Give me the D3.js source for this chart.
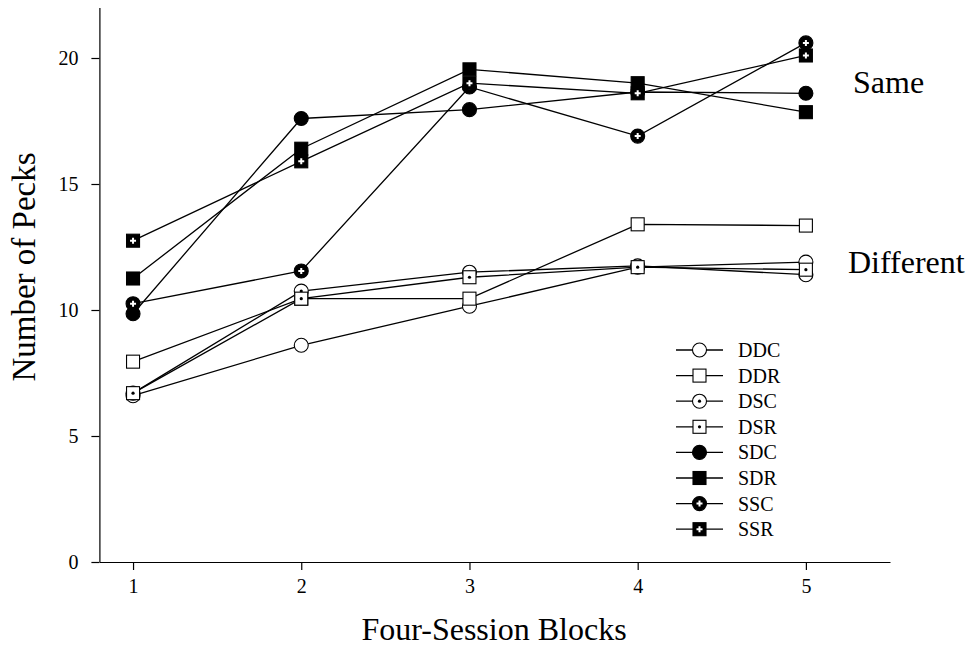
<!DOCTYPE html>
<html>
<head>
<meta charset="utf-8">
<script src="https://cdn.jsdelivr.net/npm/d3@7"></script>
<style>
  html, body { margin: 0; padding: 0; background: #fff; }
  svg { display: block; }
  text { font-family: "Liberation Serif", "Times New Roman", serif; fill: #000; }
</style>
</head>
<body>
<svg id="chart" width="973" height="652"></svg>
<script>
// Four-session blocks on the x axis
const blocks = [1, 2, 3, 4, 5];

// Mean pecks per condition
const DDC = [6.6, 8.6, 10.15, 11.7, 11.9];
const DDR = [7.95, 10.45, 10.45, 13.4, 13.35];
const DSC = [6.7, 10.75, 11.5, 11.75, 11.4];
const DSR = [6.7, 10.45, 11.3, 11.7, 11.6];
const SDC = [9.85, 17.6, 17.95, 18.65, 18.6];
const SDR = [11.25, 16.4, 19.55, 19.0, 17.85];
const SSC = [10.25, 11.55, 18.85, 16.9, 20.6];
const SSR = [12.75, 15.9, 19.0, 18.6, 20.1];

const seriesNames = ["DDC", "DDR", "DSC", "DSR", "SDC", "SDR", "SSC", "SSR"];
const seriesValues = [DDC, DDR, DSC, DSR, SDC, SDR, SSC, SSR];

const yTicks = [0, 5, 10, 15, 20];
const groupLabels = ["Same", "Different"];

// Marker styling per condition: shape, fill, inner mark
const markerStyle = {
  DDC: { shape: "circle", fill: "#fff", inner: null },
  DDR: { shape: "square", fill: "#fff", inner: null },
  DSC: { shape: "circle", fill: "#fff", inner: "dot" },
  DSR: { shape: "square", fill: "#fff", inner: "dot" },
  SDC: { shape: "circle", fill: "#000", inner: null },
  SDR: { shape: "square", fill: "#000", inner: null },
  SSC: { shape: "circle", fill: "#000", inner: "cross" },
  SSR: { shape: "square", fill: "#000", inner: "cross" }
};

const svg = d3.select("#chart");
const x = d3.scaleLinear().domain([0.8, 5.5]).range([99.4, 890]);
const y = d3.scaleLinear().domain([0, 22]).range([562, 7.6]);

// Axes
const xAxis = d3.axisBottom(x).tickValues(blocks).tickSize(8).tickSizeOuter(0).tickPadding(9).tickFormat(d3.format("d"));
const yAxis = d3.axisLeft(y).tickValues(yTicks).tickSize(8).tickSizeOuter(0).tickPadding(13).tickFormat(d3.format("d"));

const gx = svg.append("g").attr("transform", "translate(0,562)").call(xAxis);
const gy = svg.append("g").attr("transform", "translate(99.4,0)").call(yAxis);
[gx, gy].forEach(g => {
  g.attr("font-family", null).attr("font-size", null);
  g.select(".domain").attr("stroke", "#000").attr("stroke-width", 1.2);
  g.selectAll(".tick line").attr("stroke", "#000").attr("stroke-width", 1.2);
  g.selectAll(".tick text").style("font-family", "Liberation Serif, serif").style("font-size", "20px").attr("fill", "#000");
});

// Axis titles
svg.append("text")
  .attr("x", 494).attr("y", 640)
  .attr("text-anchor", "middle")
  .style("font-size", "32px")
  .text("Four-Session Blocks");

svg.append("text")
  .attr("transform", "translate(35,267) rotate(-90)")
  .attr("text-anchor", "middle")
  .style("font-size", "33px")
  .text("Number of Pecks");

// Group labels
svg.append("text").attr("x", 853).attr("y", 93).style("font-size", "32px").text(groupLabels[0]);
svg.append("text").attr("x", 848).attr("y", 273).style("font-size", "32px").text(groupLabels[1]);

// Marker drawing helper
function drawMarker(g, name, cx, cy) {
  const s = markerStyle[name];
  if (s.shape === "circle") {
    g.append("circle").attr("cx", cx).attr("cy", cy).attr("r", 7)
      .attr("fill", s.fill).attr("stroke", "#000").attr("stroke-width", 1.1);
  } else {
    g.append("rect").attr("x", cx - 6.5).attr("y", cy - 6.5).attr("width", 13).attr("height", 13)
      .attr("fill", s.fill).attr("stroke", "#000").attr("stroke-width", 1.1);
  }
  if (s.inner === "dot") {
    g.append("circle").attr("cx", cx).attr("cy", cy).attr("r", 1.6).attr("fill", "#000");
  } else if (s.inner === "cross") {
    g.append("path")
      .attr("d", `M${cx - 3},${cy}H${cx + 3}M${cx},${cy - 3}V${cy + 3}`)
      .attr("stroke", "#fff").attr("stroke-width", 2).attr("fill", "none");
  }
}

const line = d3.line().x((d, i) => x(blocks[i])).y(d => y(d));

// Lines first, then markers on top
const plot = svg.append("g");
seriesValues.forEach(vals => {
  plot.append("path").attr("d", line(vals))
    .attr("fill", "none").attr("stroke", "#000").attr("stroke-width", 1.3);
});
seriesNames.forEach((name, k) => {
  const g = plot.append("g");
  seriesValues[k].forEach((v, i) => drawMarker(g, name, x(blocks[i]), y(v)));
});

// Legend
const legend = svg.append("g");
seriesNames.forEach((name, k) => {
  const cy = 350 + k * 25.6;
  legend.append("line").attr("x1", 676).attr("x2", 723).attr("y1", cy).attr("y2", cy)
    .attr("stroke", "#000").attr("stroke-width", 1.3);
  drawMarker(legend, name, 699.5, cy);
  legend.append("text").attr("x", 738).attr("y", cy + 7).style("font-size", "20px").text(name);
});
</script>
</body>
</html>
